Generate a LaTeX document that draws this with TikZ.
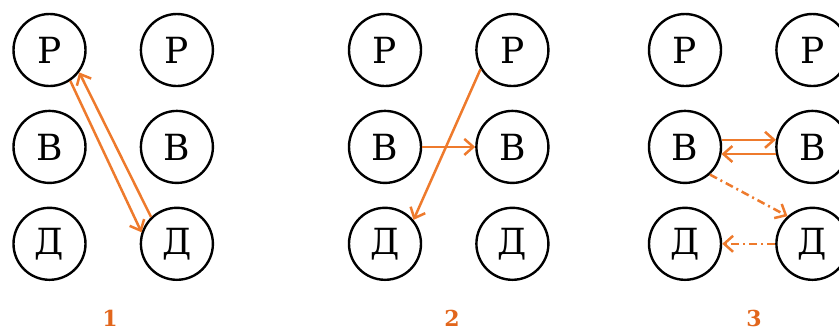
\documentclass[tikz,border=0pt]{standalone}
\usepackage{fontspec}
\setmainfont{DejaVu Serif}
\usetikzlibrary{positioning,arrows.meta}
\definecolor{MoveOrange}{HTML}{EE7A2C}
\definecolor{StepOrange}{HTML}{E2661C}

\begin{document}
\begin{tikzpicture}[x=0.5pt,y=-0.5pt,node distance=11.25pt and 26.5pt,
  letter/.style={draw,circle,line width=1.2pt,minimum size=36pt,inner sep=0pt,font=\fontsize{18}{21}\selectfont},
  steplabel/.style={text=StepOrange,font=\bfseries\fontsize{11}{13}\selectfont},
  move/.style={-{Straight Barb[length=4.5pt,width=8pt]},line width=1.25pt,MoveOrange},
  dotmove/.style={move,dash pattern=on 4pt off 2pt on 1pt off 2pt}]
\useasboundingbox (0,0) rectangle (839,329);
\clip (0,0) rectangle (839,329);
\foreach \i/\x/\lx in {1/49.5/110, 2/385/452, 3/685/754} {
  \node[letter] (r\i l) at (\x,50) {Р};
  \node[letter,right=of r\i l] (r\i r) {Р};
  \node[letter,below=of r\i l] (v\i l) {В};
  \node[letter,below=of r\i r] (v\i r) {В};
  \node[letter,below=of v\i l] (d\i l) {Д};
  \node[letter,below=of v\i r] (d\i r) {Д};
  \node[steplabel] (n\i) at (\lx,318) {\i};
}
% 1
\draw[move] (r1l.-56) -- (d1r.162);
\draw[move] (d1r.134) -- (r1l.-37);
% 2
\draw[move] (v2l) -- (v2r);
\draw[move] (r2r.211) -- (d2l.40);
% 3
\draw[move] (v3l.11) -- (v3r.169);
\draw[move] (v3r.191) -- (v3l.-11);
\draw[dotmove] (v3l.-48) -- (d3r.132);
\draw[dotmove] (d3r) -- (d3l);
\end{tikzpicture}
\end{document}
